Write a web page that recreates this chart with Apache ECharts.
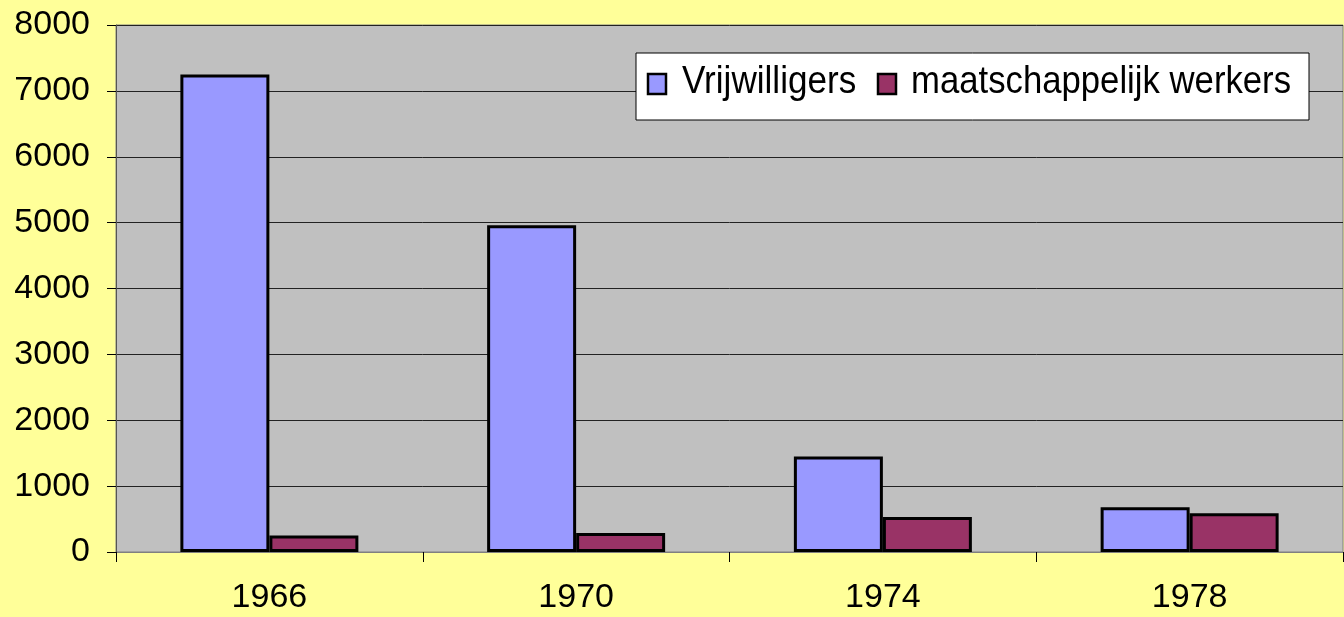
<!DOCTYPE html>
<html>
<head>
<meta charset="utf-8">
<script src="https://cdn.jsdelivr.net/npm/echarts@6/dist/echarts.min.js"></script>
<style>
html,body{margin:0;padding:0;background:#FFFF99;}
#chart{width:1344px;height:617px;}
</style>
</head>
<body>
<div id="chart"></div>
<script>
const categories = ['1966', '1970', '1974', '1978'];
const vrijwilligers = [7250, 4960, 1450, 680];
const werkers = [250, 290, 530, 590];
const seriesNames = ['Vrijwilligers', 'maatschappelijk werkers'];
const seriesColors = ['#9999FF', '#993366'];

const chart = echarts.init(document.getElementById('chart'));
const fontFam = '"Liberation Sans", Arial, sans-serif';
const legendFont = '39px "Liberation Sans", Arial, sans-serif';
chart.setOption({
  backgroundColor: '#FFFF99',
  animation: false,
  grid: {
    left: 116, top: 25, right: 1, bottom: 65,
    show: true, backgroundColor: '#C0C0C0', borderColor: '#808080', borderWidth: 1
  },
  legend: { show: false, data: seriesNames },
  graphic: [
    { type: 'rect', shape: { x: 636, y: 53, width: 673, height: 67 },
      style: { fill: '#FFFFFF', stroke: '#000', lineWidth: 1 }, z: 100 },
    { type: 'rect', shape: { x: 648, y: 74, width: 18, height: 20 },
      style: { fill: seriesColors[0], stroke: '#000', lineWidth: 2.5 }, z: 101 },
    { type: 'text', x: 682, y: 82, scaleX: 0.9, z: 101,
      style: { text: seriesNames[0], font: legendFont, fill: '#000', verticalAlign: 'middle', align: 'left' } },
    { type: 'rect', shape: { x: 878, y: 74, width: 18, height: 20 },
      style: { fill: seriesColors[1], stroke: '#000', lineWidth: 2.5 }, z: 101 },
    { type: 'text', x: 911, y: 82, scaleX: 0.89, z: 101,
      style: { text: seriesNames[1], font: legendFont, fill: '#000', verticalAlign: 'middle', align: 'left' } }
  ],
  xAxis: {
    type: 'category',
    data: categories,
    axisLine: { lineStyle: { color: '#808080', width: 1 } },
    axisTick: { show: true, length: 10, lineStyle: { color: '#000' } },
    axisLabel: { fontSize: 34, color: '#000', fontFamily: fontFam, margin: 29 },
    splitLine: { show: false }
  },
  yAxis: {
    type: 'value', min: 0, max: 8000, interval: 1000,
    axisLine: { show: true, lineStyle: { color: '#555', width: 1 } },
    axisTick: { show: true, length: 9, lineStyle: { color: '#000' } },
    axisLabel: { fontSize: 34, color: '#000', fontFamily: fontFam, margin: 26,
      formatter: v => String(v) },
    splitLine: { show: true, lineStyle: { color: '#222', width: 1 } }
  },
  series: [
    {
      name: seriesNames[0], type: 'bar', data: vrijwilligers, barWidth: 89, barGap: '0%',
      itemStyle: { color: seriesColors[0], borderColor: '#000', borderWidth: 3 }
    },
    {
      name: seriesNames[1], type: 'bar', data: werkers, barWidth: 89, barGap: '0%',
      itemStyle: { color: seriesColors[1], borderColor: '#000', borderWidth: 3 }
    }
  ]
});
</script>
</body>
</html>
